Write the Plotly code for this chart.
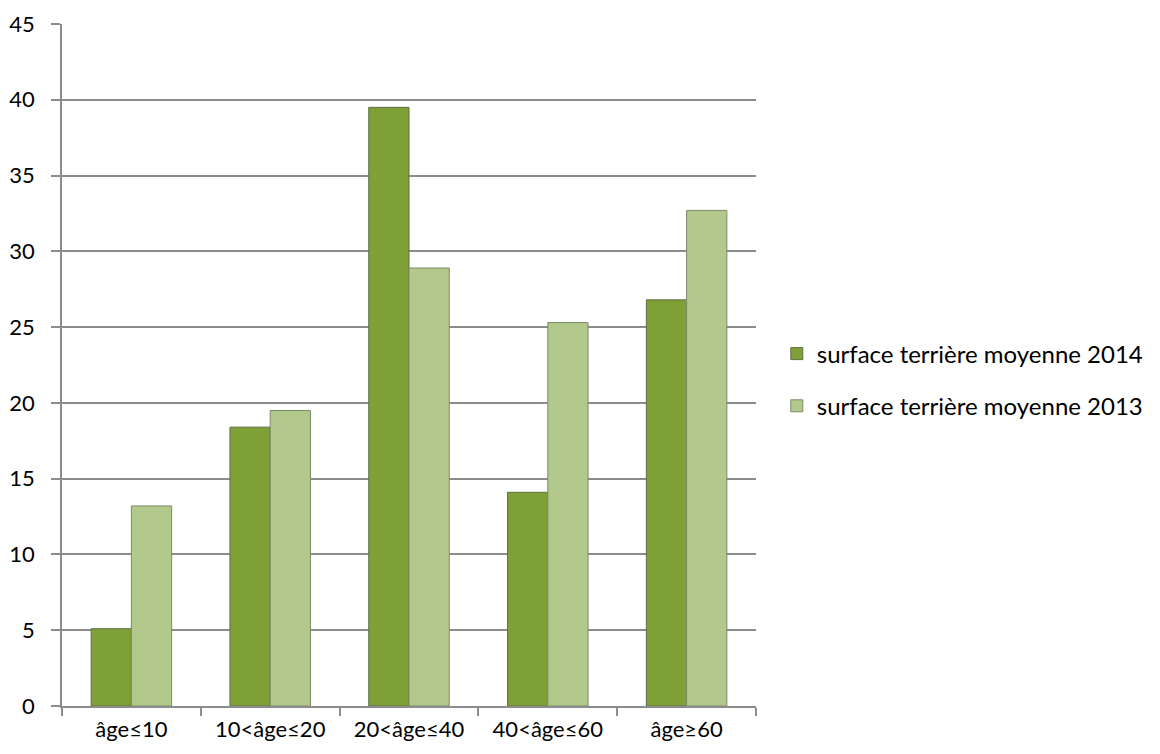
import plotly.graph_objects as go

categories = ["âge≤10", "10<âge≤20", "20<âge≤40", "40<âge≤60", "âge≥60"]
values_2014 = [5.1, 18.4, 39.5, 14.1, 26.8]
values_2013 = [13.2, 19.5, 28.9, 25.3, 32.7]
series_names = ["surface terrière moyenne 2014", "surface terrière moyenne 2013"]
y_ticks = [0, 5, 10, 15, 20, 25, 30, 35, 40, 45]

FONT = "Lato, Carlito, 'Open Sans', sans-serif"

fig = go.Figure()
fig.add_trace(go.Bar(
    x=categories, y=values_2014, name=series_names[0], legendgroup="a",
    marker=dict(color="#7f9f37", line=dict(color="#5f6f45", width=1)),
))
fig.add_trace(go.Bar(
    x=categories, y=values_2013, name=series_names[1], legendgroup="b",
    marker=dict(color="#b2c98b", line=dict(color="#7c8a66", width=1)),
))

fig.update_layout(
    width=1160, height=754,
    margin=dict(l=62, r=404, t=24, b=48, autoexpand=False),
    paper_bgcolor="white", plot_bgcolor="white",
    barmode="group", bargap=0.42, bargroupgap=0,
    font=dict(family=FONT, size=22, color="#000000"),
    legend=dict(x=1.030, y=0.478, xanchor="left", yanchor="middle",
                font=dict(size=24), tracegroupgap=18, itemwidth=30),
    showlegend=True,
)
fig.update_xaxes(
    showline=True, linecolor="#8c8c8c", linewidth=1.5,
    ticks="outside", tickson="boundaries", ticklen=8, tickcolor="#8c8c8c", tickwidth=1.5,
    showgrid=False, tickfont=dict(size=22), automargin=False, ticklabelstandoff=3,
)
fig.update_yaxes(
    range=[0, 45], tickvals=y_ticks, showline=True, linecolor="#8c8c8c", linewidth=1.5,
    ticks="outside", ticklen=9, tickcolor="#8c8c8c", tickwidth=1.5,
    showgrid=True, gridcolor="#8c8c8c", gridwidth=1.5, zeroline=False,
    tickfont=dict(size=22), ticklabelstandoff=12, automargin=False,
)

fig.write_html("out.html")
